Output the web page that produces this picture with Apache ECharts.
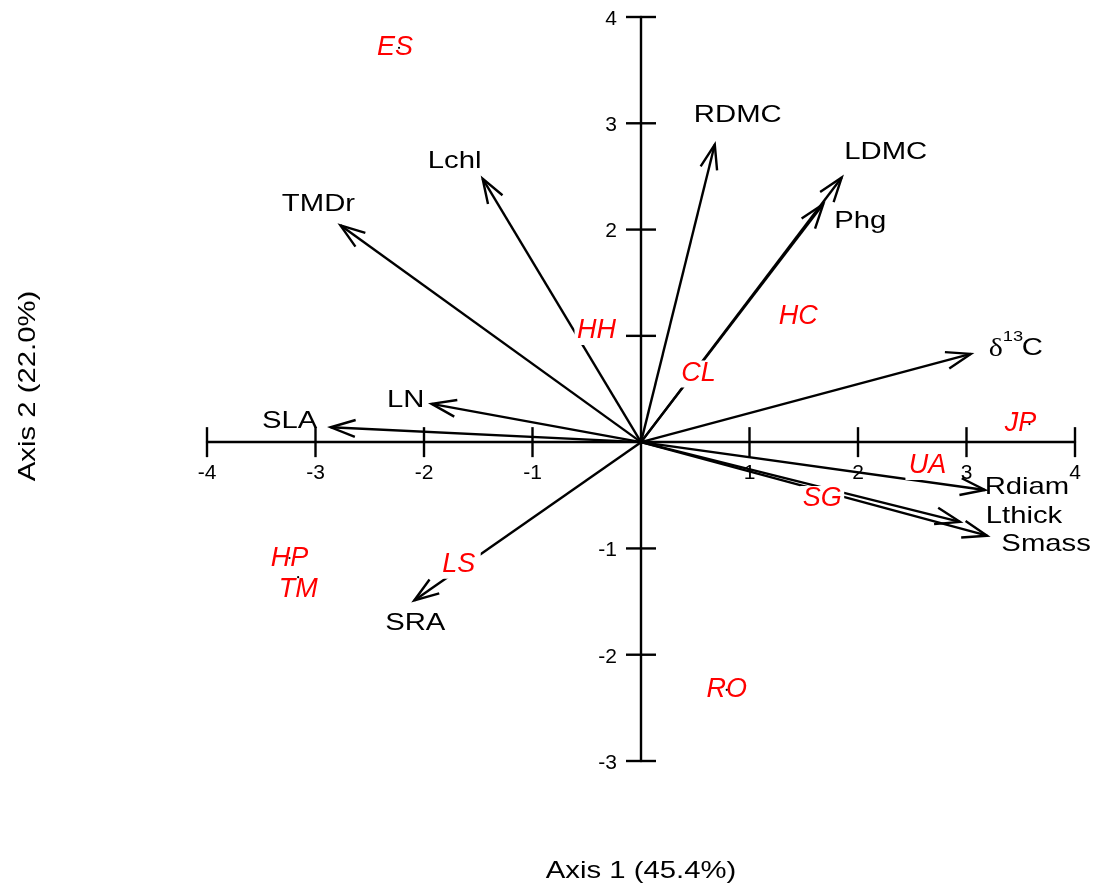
<!DOCTYPE html>
<html>
<head>
<meta charset="utf-8">
<script src="https://cdn.jsdelivr.net/npm/echarts@6/dist/echarts.min.js"></script>
<style>
  html, body { margin: 0; padding: 0; background: #fff; }
  #chart { width: 1101px; height: 892px; }
</style>
</head>
<body>
<div id="chart"></div>
<script>
// Trait loadings (arrows)
const traitNames = ['SLA', 'LN', 'TMDr', 'Lchl', 'RDMC', 'LDMC', 'Phg', 'δ13C', 'Rdiam', 'Lthick', 'Smass', 'SRA'];
const traitAxis1 = [-2.86, -1.93, -2.77, -1.46, 0.68, 1.85, 1.68, 3.04, 3.17, 2.94, 3.19, -2.09];
const traitAxis2 = [0.14, 0.36, 2.04, 2.48, 2.80, 2.49, 2.24, 0.83, -0.45, -0.75, -0.88, -1.49];

// Site scores (points with red labels)
const siteNames = ['ES', 'HH', 'HC', 'CL', 'JP', 'UA', 'SG', 'HP', 'TM', 'LS', 'RO'];
const siteAxis1 = [-2.23, -0.41, 1.45, 0.53, 3.58, 2.64, 1.67, -3.24, -3.16, -1.68, 0.79];
const siteAxis2 = [3.71, 1.05, 1.18, 0.65, 0.17, -0.22, -0.53, -1.09, -1.27, -1.15, -2.33];

// Axis ticks and their labels
const axis1Ticks = [-4, -3, -2, -1, 1, 2, 3, 4];
const axis1TickLabels = ['-4', '-3', '-2', '-1', '1', '2', '3', '4'];
const axis2Ticks = [-3, -2, -1, 1, 2, 3, 4];
const axis2TickLabels = ['-3', '-2', '-1', '1', '2', '3', '4'];
const axis1Title = 'Axis 1 (45.4%)';
const axis2Title = 'Axis 2 (22.0%)';

// Label placement (pixel offsets from arrow tip / point)
const traitLabelOffset = {
  SLA: [-41, -6], LN: [-26, -4], TMDr: [-22, -21], Lchl: [-28, -17],
  RDMC: [23, -29], LDMC: [44, -25], Phg: [37, 17],
  Rdiam: [42, -3], Lthick: [64, -5], Smass: [59, 9], SRA: [1, 23]
};
const siteLabelOffset = { ES: [-4, 0], JP: [-9, -1], TM: [0, 12] };
// sites whose point marker stays visible beside the label box
const siteMarkerShown = ['ES', 'JP', 'HP', 'TM', 'RO'];

const FONT = '"Liberation Sans", Arial, sans-serif';
const STRETCH = 1.22;
const LW = 2.4;

const chart = echarts.init(document.getElementById('chart'), null, { renderer: 'canvas' });

function blackText(x, y, text, size, align) {
  return {
    type: 'text', x: x, y: y, scaleX: STRETCH, z2: 20,
    style: {
      text: text, fill: '#000', fontSize: size, fontFamily: FONT,
      align: align || 'center', verticalAlign: 'middle'
    }
  };
}

function renderArrow(params, api) {
  const o = api.coord([0, 0]);
  const t = api.coord([api.value(0), api.value(1)]);
  const dx = o[0] - t[0], dy = o[1] - t[1];
  const L = Math.hypot(dx, dy);
  const ux = dx / L, uy = dy / L;
  const a = 19 * Math.PI / 180, len = 26;
  const arm = ang => [
    t[0] + len * (ux * Math.cos(ang) - uy * Math.sin(ang)),
    t[1] + len * (ux * Math.sin(ang) + uy * Math.cos(ang))
  ];
  const name = traitNames[params.dataIndex];
  const children = [
    { type: 'line', shape: { x1: o[0], y1: o[1], x2: t[0], y2: t[1] },
      style: { stroke: '#000', lineWidth: LW } },
    { type: 'polyline', shape: { points: [arm(a), t, arm(-a)] },
      style: { stroke: '#000', lineWidth: LW, fill: null } }
  ];
  if (name === 'δ13C') {
    children.push({
      type: 'text', x: t[0] + 18, y: t[1] - 5, scaleX: 1.15,
      style: { text: 'δ', fill: '#000', fontSize: 26, fontFamily: '"Liberation Serif", serif',
               align: 'left', verticalAlign: 'middle' }
    });
    children.push(blackText(t[0] + 32, t[1] - 17, '13', 15, 'left'));
    children.push(blackText(t[0] + 51, t[1] - 6, 'C', 24, 'left'));
  } else {
    const off = traitLabelOffset[name] || [0, 0];
    children.push(blackText(t[0] + off[0], t[1] + off[1], name, 24, 'center'));
  }
  return { type: 'group', children: children };
}

function renderSite(params, api) {
  const p = api.coord([api.value(0), api.value(1)]);
  const name = siteNames[params.dataIndex];
  const off = siteLabelOffset[name] || [0, 0];
  const cx = p[0] + off[0], cy = p[1] + off[1];
  const w = name.length * 20 + 4, h = 27;
  const children = [
    { type: 'rect', shape: { x: cx - w / 2, y: cy - h / 2 + 1, width: w, height: h },
      style: { fill: '#fff' } },
    { type: 'text', x: cx, y: cy,
      style: { text: name, fill: '#ff0000', fontSize: 27, fontStyle: 'italic', fontFamily: FONT,
               align: 'center', verticalAlign: 'middle' } }
  ];
  if (siteMarkerShown.indexOf(name) >= 0) {
    children.push({ type: 'circle', shape: { cx: p[0], cy: p[1], r: 1.1 }, style: { fill: '#000' } });
  }
  return { type: 'group', children: children };
}

function renderXTick(params, api) {
  const p = api.coord([api.value(0), 0]);
  return {
    type: 'group',
    children: [
      { type: 'line', shape: { x1: p[0], y1: p[1] - 15, x2: p[0], y2: p[1] + 15 },
        style: { stroke: '#000', lineWidth: LW } },
      { type: 'text', x: p[0], y: p[1] + 31,
        style: { text: axis1TickLabels[params.dataIndex], fill: '#000', fontSize: 21, fontFamily: FONT,
                 align: 'center', verticalAlign: 'middle' } }
    ]
  };
}
function renderYTick(params, api) {
  const p = api.coord([0, api.value(0)]);
  return {
    type: 'group',
    children: [
      { type: 'line', shape: { x1: p[0] - 15, y1: p[1], x2: p[0] + 15, y2: p[1] },
        style: { stroke: '#000', lineWidth: LW } },
      { type: 'text', x: p[0] - 24, y: p[1] + 2,
        style: { text: axis2TickLabels[params.dataIndex], fill: '#000', fontSize: 21, fontFamily: FONT,
                 align: 'right', verticalAlign: 'middle' } }
    ]
  };
}

const option = {
  backgroundColor: '#fff',
  animation: false,
  grid: { left: 207, right: 26, top: 17, bottom: 131 },
  xAxis: {
    type: 'value', min: -4, max: 4, interval: 1,
    axisLine: { show: true, onZero: true, lineStyle: { color: '#000', width: LW } },
    axisTick: { show: false },
    splitLine: { show: false },
    axisLabel: { show: false }
  },
  yAxis: {
    type: 'value', min: -3, max: 4, interval: 1,
    axisLine: { show: true, onZero: true, lineStyle: { color: '#000', width: LW } },
    axisTick: { show: false },
    splitLine: { show: false },
    axisLabel: { show: false }
  },
  graphic: [
    { type: 'text', x: 641, y: 871, scaleX: STRETCH,
      style: { text: axis1Title, fill: '#000', fontSize: 24, fontFamily: FONT,
               align: 'center', verticalAlign: 'middle' } },
    { type: 'text', x: 28, y: 386, rotation: Math.PI / 2, scaleX: STRETCH,
      style: { text: axis2Title, fill: '#000', fontSize: 24, fontFamily: FONT,
               align: 'center', verticalAlign: 'middle' } }
  ],
  series: [
    { type: 'custom', name: 'xTicks', renderItem: renderXTick, z: 3, silent: true,
      data: axis1Ticks.map(v => [v]) },
    { type: 'custom', name: 'yTicks', renderItem: renderYTick, z: 3, silent: true,
      data: axis2Ticks.map(v => [v]) },
    { type: 'custom', name: 'traits', renderItem: renderArrow, z: 5, silent: true,
      data: traitNames.map((n, i) => [traitAxis1[i], traitAxis2[i]]) },
    { type: 'custom', name: 'sites', renderItem: renderSite, z: 10, silent: true,
      data: siteNames.map((n, i) => [siteAxis1[i], siteAxis2[i]]) }
  ]
};

chart.setOption(option);
</script>
</body>
</html>
